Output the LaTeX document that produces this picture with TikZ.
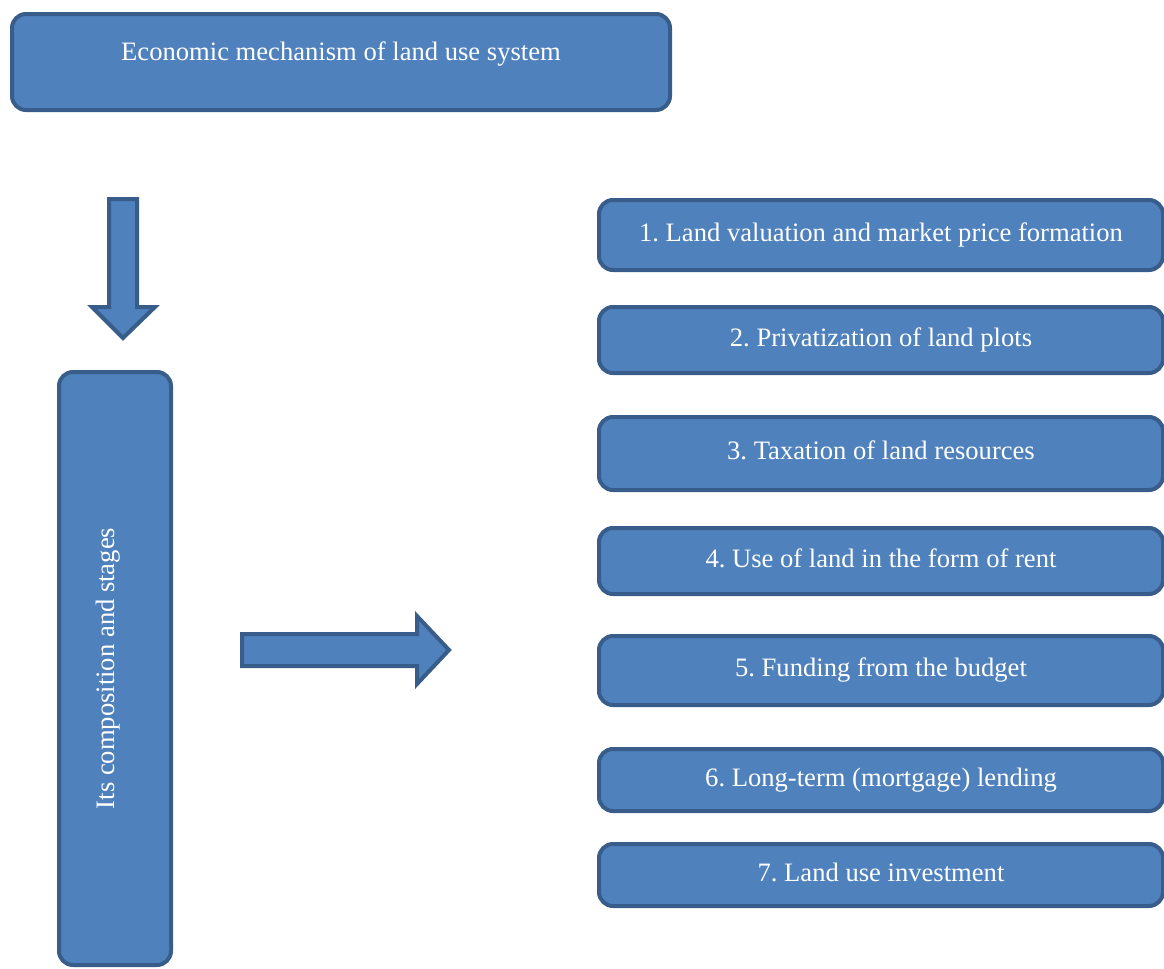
\documentclass[tikz,border=0pt]{standalone}
\usepackage{fontspec}
\setmainfont{Liberation Serif}
\frenchspacing
\definecolor{boxfill}{HTML}{4F81BD}
\definecolor{boxline}{HTML}{385D8A}
\tikzset{
  blk/.style={draw=boxline, fill=boxfill, line width=2pt, rounded corners=7pt,
    text=white, font=\fontsize{13.3}{16}\selectfont, inner sep=0pt},
  hightext/.style={text height=9pt, text depth=10pt},
  midtext/.style={text height=9pt, text depth=3pt},
  bigarrow/.style={draw=boxline, fill=boxfill, line width=2pt, line join=miter}
}
\begin{document}
\begin{tikzpicture}[x=0.5pt, y=-0.5pt]
    \useasboundingbox (0,0) rectangle (1164,969);
    \clip (0,0) rectangle (1164,969);
    % top block
    \node[blk, hightext, minimum width=329pt, minimum height=48pt] (mech) at (341,62) {Economic mechanism of land use system};
    % tall block, text read upwards
    \node[blk, hightext, rotate=90, minimum width=296.5pt, minimum height=56pt] (comp) at (115,668.5) {Its composition and stages};
    % block arrows
    \draw[bigarrow] (109,199) -- (137,199) -- (137,307) -- (155,307) -- (123,338) -- (92,307) -- (109,307) -- cycle;
    \draw[bigarrow] (242,634) -- (417,634) -- (417,616) -- (449,650) -- (417,684) -- (417,666) -- (242,666) -- cycle;
    % the seven stages
    \foreach \i/\y/\h/\t in {1/235/70/{1. Land valuation and market price formation},
                             2/340/66/{2. Privatization of land plots},
                             3/453.5/73/{3. Taxation of land resources},
                             4/561/66/{4. Use of land in the form of rent},
                             5/670.5/69/{5. Funding from the budget},
                             6/780/62/{6. Long-term (mortgage) lending},
                             7/875/62/{7. Land use investment}}
        \node[blk, midtext, minimum width=282pt, minimum height=\h*0.5pt] (s\i) at (881,\y) {\t};
\end{tikzpicture}
\end{document}
